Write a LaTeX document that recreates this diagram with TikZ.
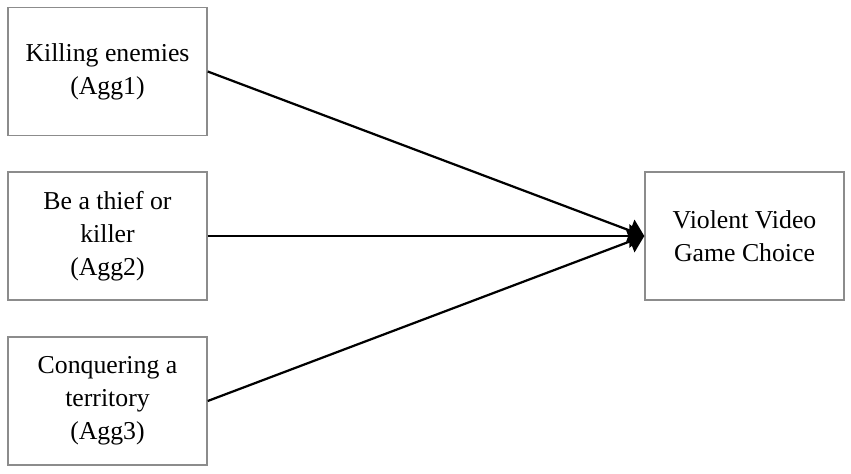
\documentclass[tikz,border=0pt]{standalone}
\usepackage{fontspec}
\setmainfont{Liberation Serif}
\usetikzlibrary{arrows.meta,positioning}
\definecolor{boxGray}{RGB}{140,140,140}
\tikzset{
  box/.style={draw=boxGray, line width=1.2pt, align=center, minimum width=5.97cm,
              minimum height=3.84cm, inner sep=4pt,
              font=\fontsize{22}{28}\selectfont},
  arrow/.style={-{Triangle[length=0.45cm, width=0.7cm]}, line width=1.9pt, draw=black}
}
\begin{document}
\begin{tikzpicture}
\useasboundingbox (0,0) rectangle (25.53,14.19);
\node[box] (agg1) at (3.225,12.045) {Killing enemies\\(Agg1)};
\node[box] (agg2) at (3.225,7.11) {Be a thief or\\killer\\(Agg2)};
\node[box] (agg3) at (3.225,2.16) {Conquering a\\territory\\(Agg3)};
\node[box] (choice) at (22.335,7.11) {Violent Video\\Game Choice};
\draw[arrow] (agg1.east) -- (choice.west);
\draw[arrow] (agg2.east) -- (choice.west);
\draw[arrow] (agg3.east) -- (choice.west);
\end{tikzpicture}
\end{document}
